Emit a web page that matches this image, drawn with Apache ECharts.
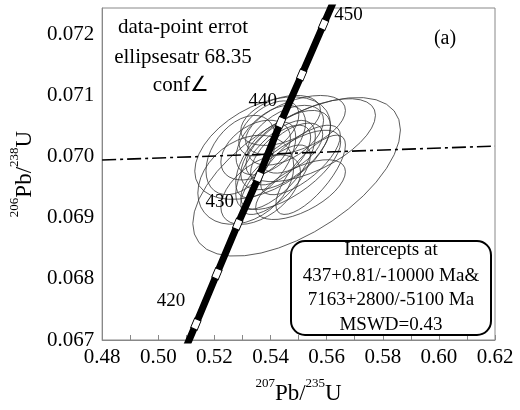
<!DOCTYPE html>
<html>
<head>
<meta charset="utf-8">
<script src="https://cdn.jsdelivr.net/npm/echarts@6/dist/echarts.min.js"></script>
<style>
  html, body { margin: 0; padding: 0; background: #fff; }
  #main { width: 520px; height: 410px; }
</style>
</head>
<body>
<div id="main"></div>
<script>
// 谐和线上的年龄点 (Ma) 及其位置
var concAge = [415, 420, 425, 430, 435, 440, 445, 450, 455];
var concX = [0.5059, 0.5134, 0.5209, 0.5283, 0.5358, 0.5436, 0.5511, 0.5589, 0.5667];
var concY = [0.06645, 0.067259, 0.068086, 0.068896, 0.069674, 0.070566, 0.071344, 0.07217, 0.07299];
var markAge = [420, 425, 430, 435, 440, 445, 450];

// 年龄标注
var ageText = ['420', '430', '440', '450'];
var ageX = [0.50452, 0.52193, 0.53721, 0.56778];
var ageY = [0.067632, 0.069269, 0.070922, 0.072332];

// 不一致线 (dash-dot)
var discX = [0.48, 0.62];
var discY = [0.06995, 0.070177];

// 误差椭圆: 中心, 半宽, 半高, 相关系数
var ellX   = [0.5493, 0.5372, 0.5312, 0.5543, 0.5489, 0.5454, 0.5418, 0.5472, 0.5401, 0.5436, 0.5383, 0.5507, 0.5347, 0.5454, 0.5418, 0.5479, 0.5394, 0.5507, 0.5365, 0.5436, 0.5294, 0.5543];
var ellY   = [0.069674, 0.070144, 0.069626, 0.070274, 0.070517, 0.070112, 0.069869, 0.069788, 0.070274, 0.070031, 0.069950, 0.069950, 0.070112, 0.070355, 0.069626, 0.070144, 0.070468, 0.069464, 0.069464, 0.070598, 0.070031, 0.069707];
var ellSx  = [0.0370, 0.0242, 0.0171, 0.0231, 0.0178, 0.0160, 0.0142, 0.0178, 0.0124, 0.0107, 0.0107, 0.0142, 0.0124, 0.0135, 0.0124, 0.0107, 0.0107, 0.0160, 0.0142, 0.0142, 0.0124, 0.0124];
var ellSy  = [0.00130, 0.00084, 0.00073, 0.00068, 0.00049, 0.00065, 0.00073, 0.00065, 0.00057, 0.00049, 0.00062, 0.00057, 0.00049, 0.00049, 0.00057, 0.00041, 0.00045, 0.00049, 0.00057, 0.00041, 0.00065, 0.00065];
var ellRho = [0.59, 0.45, 0.30, 0.60, 0.50, 0.60, 0.65, 0.70, 0.50, 0.60, 0.60, 0.70, 0.40, 0.50, 0.70, 0.55, 0.50, 0.60, 0.50, 0.40, 0.40, 0.75];

var xTicks = [0.48, 0.50, 0.52, 0.54, 0.56, 0.58, 0.60, 0.62];
var yTicks = [0.067, 0.068, 0.069, 0.070, 0.071, 0.072];

var serif = 'Liberation Serif';
var chart = echarts.init(document.getElementById('main'));

var series = [];
for (var i = 0; i < ellX.length; i++) {
  var pts = [];
  var n = 36;
  for (var k = 0; k <= n; k++) {
    var t = 2 * Math.PI * k / n;
    pts.push([
      ellX[i] + ellSx[i] * Math.cos(t),
      ellY[i] + ellSy[i] * (ellRho[i] * Math.cos(t) + Math.sqrt(1 - ellRho[i] * ellRho[i]) * Math.sin(t))
    ]);
  }
  series.push({
    type: 'line', data: pts, showSymbol: false, silent: true, z: 2,
    lineStyle: { color: '#333', width: 0.8 }
  });
}

series.push({
  type: 'line', silent: true, showSymbol: false, z: 3,
  data: discX.map(function (x, j) { return [x, discY[j]]; }),
  lineStyle: { color: '#000', width: 1.6, type: [14, 4, 3, 4] }
});

series.push({
  type: 'line', silent: true, showSymbol: false, z: 4,
  data: concX.map(function (x, j) { return [x, concY[j]]; }),
  lineStyle: { color: '#000', width: 7 }
});

series.push({
  type: 'scatter', silent: true, z: 5,
  data: concAge.map(function (a, j) { return [concX[j], concY[j], a]; })
    .filter(function (d) { return markAge.indexOf(d[2]) >= 0; }),
  symbol: 'rect', symbolSize: [7, 10], symbolRotate: -23,
  itemStyle: { color: '#fff', borderColor: '#000', borderWidth: 1, opacity: 1 }
});

series.push({
  type: 'scatter', silent: true, z: 6, symbolSize: 1,
  itemStyle: { opacity: 0 },
  data: ageX.map(function (x, j) { return [x, ageY[j]]; }),
  label: {
    show: true, position: 'inside', color: '#000', opacity: 1, fontFamily: serif, fontSize: 19,
    formatter: function (p) { return ageText[p.dataIndex]; }
  }
});

var note = '21px "Liberation Serif"';
var box = '19px "Liberation Serif"';

var option = {
  animation: false,
  grid: { left: 101, top: 8, right: 25, bottom: 68, show: true, borderColor: '#888', borderWidth: 1 },
  xAxis: {
    type: 'value', min: xTicks[0], max: xTicks[xTicks.length - 1], interval: 0.02,
    name: '{s|207}{m|Pb/}{s|235}{m|U}', nameLocation: 'middle', nameGap: 37,
    nameTextStyle: {
      rich: {
        m: { fontFamily: serif, fontSize: 23, color: '#000', lineHeight: 28, verticalAlign: 'bottom' },
        s: { fontFamily: serif, fontSize: 13, color: '#000', lineHeight: 28, verticalAlign: 'top' }
      }
    },
    axisLine: { show: true, lineStyle: { color: '#888', width: 1 } },
    axisTick: { show: true, inside: true, length: 5, lineStyle: { color: '#888' } },
    minorTick: { show: true, splitNumber: 2, length: 5, lineStyle: { color: '#888' } },
    splitLine: { show: false },
    axisLabel: {
      color: '#000', fontFamily: serif, fontSize: 21, margin: 7,
      formatter: function (v) { return v.toFixed(2); }
    }
  },
  yAxis: {
    type: 'value', min: yTicks[0], max: 0.07244, interval: 0.001,
    name: '{s|206}{m|Pb/}{s|238}{m|U}', nameLocation: 'middle', nameGap: 56, nameRotate: 90,
    nameTextStyle: {
      rich: {
        m: { fontFamily: serif, fontSize: 23, color: '#000', lineHeight: 28, verticalAlign: 'bottom' },
        s: { fontFamily: serif, fontSize: 13, color: '#000', lineHeight: 28, verticalAlign: 'top' }
      }
    },
    axisLine: { show: true, lineStyle: { color: '#888', width: 1 } },
    axisTick: { show: false },
    splitLine: { show: false },
    axisLabel: {
      color: '#000', fontFamily: serif, fontSize: 21, margin: 8, showMaxLabel: false,
      formatter: function (v) { return v.toFixed(3); }
    }
  },
  graphic: [
    { type: 'text', x: 183, y: 27, z: 10, style: { text: 'data-point errot', font: note, fill: '#000', textAlign: 'center', textVerticalAlign: 'middle' } },
    { type: 'text', x: 183, y: 57, z: 10, style: { text: 'ellipsesatr 68.35', font: note, fill: '#000', textAlign: 'center', textVerticalAlign: 'middle' } },
    { type: 'text', x: 181, y: 85, z: 10, style: { text: 'conf\u2220', font: note, fill: '#000', textAlign: 'center', textVerticalAlign: 'middle' } },
    { type: 'text', x: 445, y: 39, z: 10, style: { text: '(a)', font: '20px "Liberation Serif"', fill: '#000', textAlign: 'center', textVerticalAlign: 'middle' } },
    { type: 'rect', z: 10, shape: { x: 291, y: 241, width: 200, height: 94, r: 14 }, style: { fill: '#fff', stroke: '#000', lineWidth: 2 } },
    { type: 'text', x: 391, y: 250, z: 11, style: { text: 'Intercepts at', font: box, fill: '#000', textAlign: 'center', textVerticalAlign: 'middle' } },
    { type: 'text', x: 391, y: 276, z: 11, style: { text: '437+0.81/-10000 Ma&', font: box, fill: '#000', textAlign: 'center', textVerticalAlign: 'middle' } },
    { type: 'text', x: 391, y: 300, z: 11, style: { text: '7163+2800/-5100 Ma', font: box, fill: '#000', textAlign: 'center', textVerticalAlign: 'middle' } },
    { type: 'text', x: 391, y: 325, z: 11, style: { text: 'MSWD=0.43', font: box, fill: '#000', textAlign: 'center', textVerticalAlign: 'middle' } }
  ],
  series: series
};
chart.setOption(option);
</script>
</body>
</html>
